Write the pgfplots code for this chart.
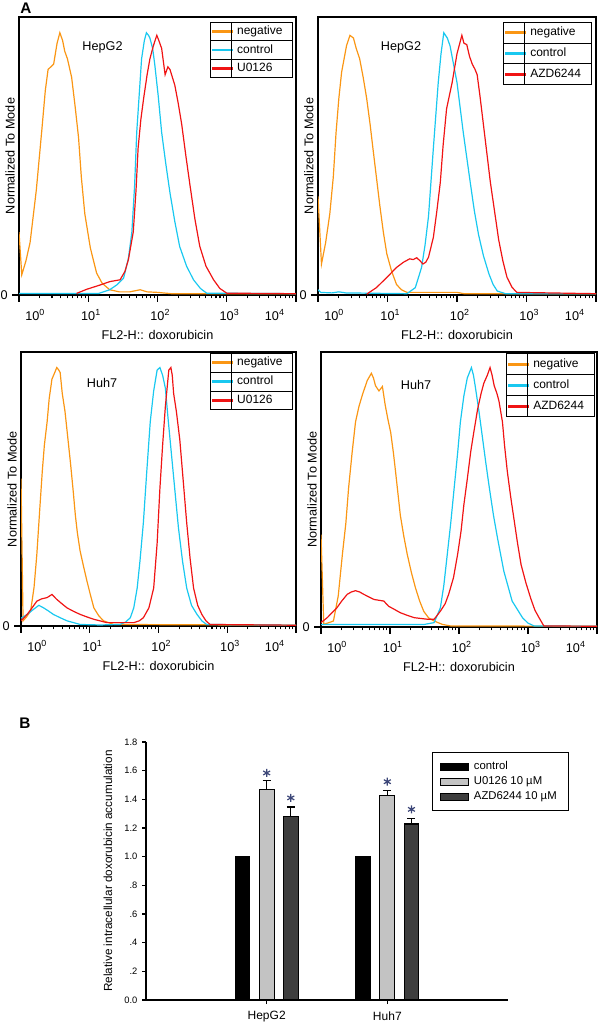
\documentclass[border=0pt]{standalone}
\usepackage{fontspec}
\setmainfont{Liberation Sans}
\usepackage{pgfplots}
\pgfplotsset{compat=1.18}
\usetikzlibrary{calc}

\definecolor{cneg}{RGB}{250,150,20}
\definecolor{cctl}{RGB}{25,200,240}
\definecolor{cred}{RGB}{240,20,20}
\definecolor{barlight}{RGB}{195,195,195}
\definecolor{bardark}{RGB}{62,62,62}
\definecolor{starc}{RGB}{60,70,120}

% tick label 10^k, "10" centred on the tick, shifted by #1
\newcommand\dec[2]{\rlap{\kern#1\llap{1}\rlap{0\textsuperscript{#2}}}}
% inner lines of the histogram legends
\newcommand\leggrid[1]{%
  \draw[line width=0.7pt]
    ($(#1.north west)!1/3!(#1.south west)$) -- ($(#1.north east)!1/3!(#1.south east)$)
    ($(#1.north west)!2/3!(#1.south west)$) -- ($(#1.north east)!2/3!(#1.south east)$)
    ([xshift=15.75pt]#1.north west) -- ([xshift=15.75pt]#1.south west);}

\pgfplotsset{
  hist/.style={
    scale only axis,
    xmin=0, xmax=4, ymin=0, ymax=106,
    axis line style={line width=1.1pt},
    xtick={0,1,2,3,4},
    xticklabels={\dec{10pt}{0},\dec{0pt}{1},\dec{0pt}{2},\dec{0pt}{3},\dec{-18pt}{4}},
    minor xtick={0.301,0.477,0.602,0.699,0.778,0.845,0.903,0.954,
                 1.301,1.477,1.602,1.699,1.778,1.845,1.903,1.954,
                 2.301,2.477,2.602,2.699,2.778,2.845,2.903,2.954,
                 3.301,3.477,3.602,3.699,3.778,3.845,3.903,3.954},
    tick align=outside, tick pos=left,
    major tick length=5pt, minor tick length=2.5pt,
    every tick/.style={black, line width=0.8pt},
    ytick={0}, yticklabels={0},
    xlabel={FL2-H:: doxorubicin},
    ylabel={Normalized To Mode},
    xlabel style={at={(axis description cs:0.5,0)}, anchor=center, yshift=-30pt},
    ylabel style={at={(axis description cs:-0.0325,0.5)}, anchor=center},
    ticklabel style={font=\fontsize{9.5}{11}\selectfont},
    label style={font=\fontsize{9.5}{11}\selectfont},
    xticklabel style={yshift=-2pt},
    legend cell align=left,
    legend image code/.code={\draw[##1, line width=2.2pt] (0pt,0pt) -- (15.75pt,0pt);},
    every axis plot/.append style={line width=0.9pt},
  },
  hleg/.style n args={5}{
    legend style={name=#1, at={(#2,#3)}, anchor=north east, draw=black,
      line width=0.7pt, inner sep=0pt, row sep=0pt, column sep=0pt,
      font=\fontsize{9}{10}\selectfont,
      nodes={inner xsep=2pt, inner ysep=0pt, text width=#4, align=left,
             text height=6.6pt, text depth=2pt, minimum height=#5}}},
  errs/.style={
    error bars/y dir=plus, error bars/y explicit,
    error bars/error bar style={line width=0.9pt, black},
    error bars/error mark options={rotate=90, mark size=3pt, line width=0.9pt, black}},
}

\begin{document}
\begin{tikzpicture}
\useasboundingbox (0,0) rectangle (450pt,-768pt);

% ---------------- A: HepG2 / U0126
\begin{axis}[hist, hleg={legA}{0.989}{0.982}{39.5pt}{13.75pt},
  at={(14.25pt,-221.25pt)}, anchor=south west, width=207.75pt, height=208.5pt]
\addplot[cneg] coordinates {(0,24) (0.04,7.7) (0.1,13) (0.16,20) (0.25,40) (0.33,63) (0.38,78) (0.42,86) (0.50,88) (0.55,96) (0.59,100) (0.63,97) (0.66,93) (0.70,90) (0.76,83) (0.81,72) (0.86,60) (0.90,45) (0.95,31) (1.03,18) (1.12,8.4) (1.2,4.5) (1.31,2) (1.45,1.2) (1.6,1.2) (1.75,2) (1.85,1.2) (2.0,1) (2.2,0.5) (4,0.5)};
\addplot[cctl] coordinates {(0,0.6) (1.15,0.6) (1.31,2) (1.42,4) (1.51,6.4) (1.58,14) (1.63,24) (1.67,42) (1.70,62) (1.74,78) (1.77,90) (1.81,97) (1.84,100) (1.87,99) (1.89,98) (1.93,94) (1.96,88) (2.01,76) (2.06,62) (2.12,50) (2.18,39) (2.25,28) (2.32,18.5) (2.42,11) (2.52,5.8) (2.62,2.5) (2.71,0.7) (4,0.5)};
\addplot[cred] coordinates {(0.83,0.6) (0.98,2.2) (1.17,3.8) (1.31,5.1) (1.46,5.8) (1.53,9) (1.58,13.5) (1.65,24) (1.69,40) (1.72,56) (1.76,67) (1.80,75) (1.85,84) (1.89,90) (1.94,95) (1.99,99) (2.02,97) (2.06,94) (2.11,84) (2.15,87) (2.18,86) (2.25,80) (2.30,73) (2.35,65) (2.41,53) (2.47,41.7) (2.54,29) (2.61,18.6) (2.70,11) (2.81,5.8) (2.9,2.5) (3.0,0.7) (4,0.5)};
\legend{negative,control,U0126}
\end{axis}
\leggrid{legA}

% ---------------- A: HepG2 / AZD6244
\begin{axis}[hist, hleg={legB}{0.986}{0.982}{44pt}{15.5pt},
  at={(238.5pt,-221.25pt)}, anchor=south west, width=208.5pt, height=208.5pt]
\addplot[cneg] coordinates {(0,37.6) (0.05,11.8) (0.11,20) (0.17,31) (0.22,45) (0.26,62) (0.30,75) (0.34,85) (0.41,95) (0.46,99) (0.51,98) (0.55,94) (0.60,90) (0.65,83) (0.70,75) (0.75,65) (0.79,56) (0.84,45) (0.89,34) (0.94,24) (0.99,15.7) (1.06,9) (1.13,4) (1.2,2) (1.28,1) (2.0,1) (2.1,0.5) (4,0.5)};
\addplot[cctl] coordinates {(0,2) (0.04,1) (0.2,0.8) (0.3,1.2) (0.4,0.8) (1.28,0.5) (1.40,2.8) (1.49,10.5) (1.54,19) (1.59,30) (1.66,56) (1.73,81) (1.77,92) (1.81,100) (1.86,98) (1.90,95) (1.95,88) (2.0,81) (2.09,62) (2.19,43) (2.25,32) (2.31,23) (2.38,15) (2.46,8) (2.52,4) (2.58,1.5) (2.7,0.5) (4,0.5)};
\addplot[cred] coordinates {(0.70,0.3) (0.84,2.8) (0.99,6.7) (1.13,10.5) (1.23,12.5) (1.32,13.8) (1.37,13.5) (1.42,14.2) (1.47,13) (1.51,11.8) (1.55,12.5) (1.59,14.4) (1.66,22) (1.71,32) (1.76,43) (1.80,57) (1.85,71) (1.93,81) (2.0,92) (2.04,96) (2.07,99) (2.10,96) (2.14,95.5) (2.18,91) (2.22,88) (2.26,86) (2.29,84) (2.33,76) (2.38,65) (2.43,54) (2.48,43) (2.54,32) (2.60,21) (2.66,13) (2.72,6.7) (2.79,3) (2.86,1) (4,0.5)};
\legend{negative,control,AZD6244}
\end{axis}
\leggrid{legB}

% ---------------- A: Huh7 / U0126
\begin{axis}[hist, hleg={legC}{0.989}{0.996}{39.5pt}{14pt},
  at={(15.75pt,-469.5pt)}, anchor=south west, width=206.25pt, height=205.5pt]
\addplot[cneg] coordinates {(0,57) (0.03,2) (0.08,3.5) (0.14,5.8) (0.19,15) (0.23,27.6) (0.27,44) (0.31,60) (0.34,70) (0.38,79) (0.41,88) (0.45,95.5) (0.49,98) (0.52,100) (0.55,99) (0.57,98) (0.60,90) (0.64,83) (0.68,73) (0.72,63) (0.76,52) (0.79,43) (0.82,36) (0.86,29) (0.91,23) (0.96,17.3) (1.01,12) (1.06,7) (1.13,4) (1.2,2) (1.35,0.6) (4,0.3)};
\addplot[cctl] coordinates {(0,3) (0.09,4.5) (0.18,6.4) (0.26,8) (0.33,7) (0.40,5.8) (0.47,4.5) (0.57,3.2) (0.67,2) (0.86,0.6) (1.15,0.4) (1.44,0.6) (1.52,1.5) (1.59,3.2) (1.64,7) (1.69,14.7) (1.73,25) (1.78,40) (1.83,60) (1.88,79) (1.93,91) (1.98,99) (2.02,100) (2.06,97) (2.10,92) (2.14,80) (2.19,66) (2.24,52) (2.29,38) (2.35,25) (2.41,14.7) (2.48,8) (2.56,4.5) (2.63,2) (2.70,0.6) (4,0.3)};
\addplot[cred] coordinates {(0,2) (0.09,4.5) (0.16,7) (0.23,9.6) (0.30,10.5) (0.38,11) (0.45,12.2) (0.52,10.3) (0.60,8.5) (0.67,7) (0.77,5.6) (0.86,4.5) (0.96,3.5) (1.06,2.6) (1.25,1.3) (1.64,1.3) (1.72,2) (1.78,3.2) (1.86,7) (1.93,14.7) (1.98,32) (2.02,53) (2.06,70) (2.10,85) (2.15,99) (2.18,100) (2.20,97) (2.22,90) (2.26,83) (2.31,72) (2.36,56) (2.41,40) (2.46,26) (2.51,14.7) (2.57,8) (2.63,4.5) (2.69,2) (2.75,0.6) (4,0.3)};
\legend{negative,control,U0126}
\end{axis}
\leggrid{legC}

% ---------------- A: Huh7 / AZD6244
\begin{axis}[hist, hleg={legD}{0.993}{0.996}{44pt}{15.75pt},
  at={(240.75pt,-470.25pt)}, anchor=south west, width=207pt, height=206.25pt]
\addplot[cneg] coordinates {(0,35.6) (0.04,1) (0.18,2.3) (0.25,12) (0.31,28) (0.36,40) (0.40,53.6) (0.45,67) (0.50,79) (0.55,85) (0.60,89.5) (0.67,95) (0.73,97.8) (0.76,96) (0.79,93) (0.84,91) (0.89,92.7) (0.93,85.6) (0.97,80) (1.01,75) (1.05,67) (1.08,60) (1.15,43) (1.20,35) (1.25,28) (1.31,21) (1.37,15) (1.43,10) (1.49,6) (1.56,3.5) (1.64,2.3) (1.76,1) (1.88,0.4) (4,0.3)};
\addplot[cctl] coordinates {(0,1) (1.5,1) (1.64,1.7) (1.73,7.4) (1.78,16) (1.83,28) (1.88,40) (1.93,53.6) (1.98,67) (2.02,79) (2.07,89) (2.12,96) (2.18,100) (2.21,97) (2.24,92) (2.29,83) (2.34,73) (2.39,63) (2.44,53.6) (2.50,43) (2.56,34) (2.65,21.5) (2.77,10) (2.92,3.6) (3.0,1.5) (3.09,0.4) (4,0.3)};
\addplot[cred] coordinates {(0,1.7) (0.09,3.6) (0.16,5.5) (0.23,7.4) (0.30,10) (0.38,12.6) (0.44,13.5) (0.50,14) (0.56,13.5) (0.62,12.6) (0.70,11.5) (0.77,10.6) (0.84,10.3) (0.91,10) (0.98,8) (1.07,6.7) (1.15,5.5) (1.25,4.5) (1.35,3.6) (1.54,3) (1.64,3) (1.73,6.1) (1.80,9) (1.85,12.6) (1.92,19) (1.98,28) (2.03,37) (2.07,47) (2.12,57) (2.17,67.6) (2.22,76) (2.27,84) (2.32,90) (2.36,94) (2.41,97) (2.45,100) (2.48,97) (2.51,93) (2.55,90) (2.58,87) (2.63,79) (2.66,70) (2.70,60) (2.75,50) (2.80,41) (2.85,32) (2.90,24) (2.97,17) (3.04,11) (3.10,6.5) (3.16,3.6) (3.23,0.4) (4,0.3)};
\legend{negative,control,AZD6244}
\end{axis}
\leggrid{legD}

\node[font=\fontsize{9.5}{11}\selectfont] at (76.9pt,-35.25pt) {HepG2};
\node[font=\fontsize{9.5}{11}\selectfont] at (300.75pt,-35.25pt) {HepG2};
\node[font=\fontsize{9.5}{11}\selectfont] at (76.5pt,-287.25pt) {Huh7};
\node[font=\fontsize{9.5}{11}\selectfont] at (312pt,-288.75pt) {Huh7};
\node[font=\bfseries\fontsize{11.5}{12}\selectfont] at (19.5pt,-6pt) {A};
\node[font=\bfseries\fontsize{11.5}{12}\selectfont] at (18.75pt,-542.25pt) {B};

% ---------------- B: bar chart (bars placed at 0.8/1/1.2 and 1.8/2/2.2)
\begin{axis}[
  at={(109.5pt,-750pt)}, anchor=south west, scale only axis,
  width=271.5pt, height=193.5pt,
  xmin=0, xmax=3, ymin=0, ymax=1.8,
  axis lines=left, axis line style={-, line width=0.8pt},
  xtick={1,2}, xticklabels={HepG2,Huh7},
  ytick={0,0.2,0.4,0.6,0.8,1.0,1.2,1.4,1.6,1.8},
  yticklabels={0.0,.2,.4,.6,.8,1.0,1.2,1.4,1.6,1.8},
  tick align=outside, major tick length=3pt,
  every tick/.style={black, line width=0.8pt},
  xticklabel style={font=\fontsize{9}{10}\selectfont, yshift=-2pt},
  yticklabel style={font=\fontsize{7}{8}\selectfont},
  ylabel={Relative intracellular doxorubicin accumulation},
  ylabel style={at={(axis description cs:-0.105,0.5)}, anchor=center, font=\fontsize{8.8}{10}\selectfont},
  bar width=0.123,
  legend cell align=left,
  legend image code/.code={\draw[#1, line width=0.8pt] (0pt,-2.6pt) rectangle (21pt,2.6pt);},
  legend style={at={(1.169,0.961)}, anchor=north east, draw=black, line width=0.7pt,
    inner xsep=5.25pt, inner ysep=4.9pt, row sep=0pt,
    font=\fontsize{8.5}{10}\selectfont,
    nodes={inner xsep=3.75pt, inner ysep=0pt, text height=6.2pt, text depth=1.8pt, minimum height=11.25pt}},
]
\addplot[ybar, bar shift=0, fill=black, draw=black, line width=0.8pt]
  coordinates {(0.8,1.0) (1.8,1.0)};
\addplot[ybar, bar shift=0, fill=barlight, draw=black, line width=0.8pt, errs]
  coordinates {(1,1.47) +- (0,0.06) (2,1.424) +- (0,0.036)};
\addplot[ybar, bar shift=0, fill=bardark, draw=black, line width=0.8pt, errs]
  coordinates {(1.2,1.28) +- (0,0.067) (2.2,1.228) +- (0,0.037)};
\addplot[only marks, mark=asterisk, mark size=3pt, starc, line width=0.9pt, forget plot]
  coordinates {(1,1.584) (1.2,1.41) (2,1.523) (2.2,1.33)};
\legend{control,U0126 10 µM,AZD6244 10 µM}
\end{axis}
\end{tikzpicture}
\end{document}
